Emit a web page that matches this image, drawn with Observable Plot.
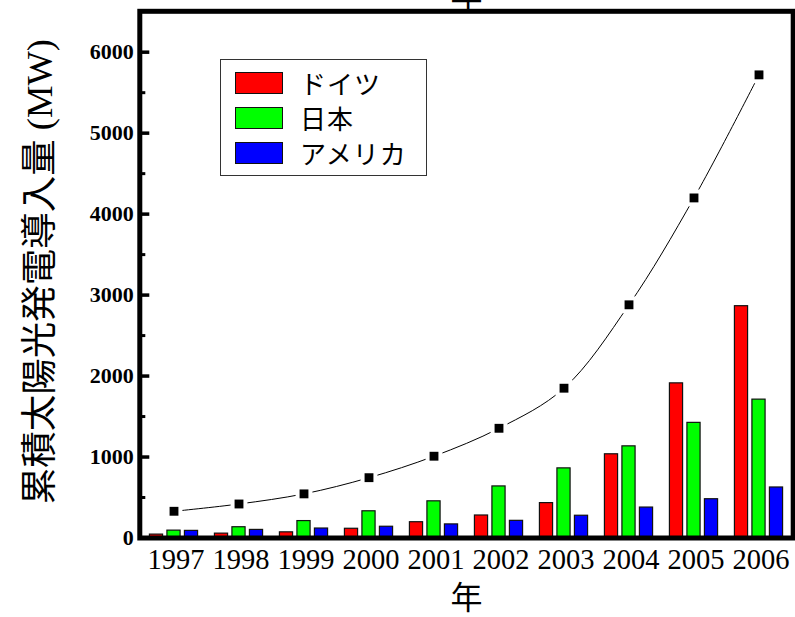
<!DOCTYPE html>
<html>
<head>
<meta charset="utf-8">
<script src="https://cdn.jsdelivr.net/npm/d3@7"></script>
<script src="https://cdn.jsdelivr.net/npm/@observablehq/plot@0.6"></script>
<style>
  html, body { margin: 0; padding: 0; background: #fff; }
  #chart { position: relative; width: 795px; height: 617px; overflow: hidden; }
  #legend {
    position: absolute; left: 220px; top: 59px; width: 207px; height: 117px;
    box-sizing: border-box; border: 1.5px solid #333; background: #fff;
    font-family: "Noto Sans CJK JP", sans-serif; font-size: 26px; color: #000;
  }
  #legend .row { position: absolute; left: 14px; height: 22px; display: flex; align-items: center; }
  #legend .sw { width: 48px; height: 22px; box-sizing: border-box; border: 1px solid #111; }
  #legend .lab { margin-left: 17px; line-height: 22px; white-space: nowrap; letter-spacing: 1px; }
</style>
</head>
<body>
<div id="chart"></div>
<script>
// Cumulative installed photovoltaic capacity (MW), 1997–2006
const years = ["1997", "1998", "1999", "2000", "2001", "2002", "2003", "2004", "2005", "2006"];
const countries = ["ドイツ", "日本", "アメリカ"];
const colors = ["#ff0000", "#00ff00", "#0000ff"];
const germany = [42, 54, 70, 114, 195, 278, 431, 1034, 1910, 2863];
const japan = [91, 133, 209, 330, 453, 637, 860, 1132, 1422, 1709];
const usa = [88, 100, 117, 139, 168, 212, 275, 376, 479, 624];
const total = [330, 420, 545, 745, 1010, 1355, 1850, 2880, 4200, 5720];
const yMajor = [0, 1000, 2000, 3000, 4000, 5000, 6000];
const yMinor = [500, 1500, 2500, 3500, 4500, 5500];
const xTitle = "年";
const yTitleMain = "累積太陽光発電導入量";
const yTitleUnit = "(MW)";

const rows = years.map((year, i) => ({
  year, germany: germany[i], japan: japan[i], usa: usa[i], total: total[i]
}));

const width = 795, height = 617;
const marginLeft = 139.3, marginRight = 2.3, marginTop = 10.8, marginBottom = 79.5;
const bandW = (width - marginLeft - marginRight) / years.length;
const barW = 13.5, barStep = 17.5;
const inset = (bandW - barW) / 2;
const barStyle = {stroke: "#111", strokeWidth: 1.2, insetLeft: inset, insetRight: inset};
const serif = "Liberation Serif, DejaVu Serif, serif";
const cjk = "Noto Sans CJK JP, sans-serif";

const chart = Plot.plot({
  width, height, marginLeft, marginRight, marginTop, marginBottom,
  style: {background: "#fff", color: "#000"},
  x: {type: "band", domain: years, padding: 0},
  y: {domain: [0, 6505]},
  marks: [
    Plot.barY(rows, {x: "year", y: "germany", fill: colors[0], dx: -barStep, ...barStyle}),
    Plot.barY(rows, {x: "year", y: "japan", fill: colors[1], ...barStyle}),
    Plot.barY(rows, {x: "year", y: "usa", fill: colors[2], dx: barStep, ...barStyle}),
    Plot.line(rows, {x: "year", y: "total", curve: "catmull-rom", stroke: "#000", strokeWidth: 1}),
    Plot.dot(rows, {x: "year", y: "total", symbol: "square", r: 9.5, fill: "#fff", stroke: "none"}),
    Plot.dot(rows, {x: "year", y: "total", symbol: "square", r: 5, fill: "#000", stroke: "none"}),
    Plot.frame({stroke: "#000", strokeWidth: 5}),
    Plot.axisY({ticks: yMajor, tickSize: -10, strokeWidth: 3.5, fill: "none", label: null}),
    Plot.axisY({ticks: yMinor, tickSize: -6, strokeWidth: 3, fill: "none", label: null}),
    Plot.axisY({ticks: yMajor, tickSize: 0, tickPadding: 6, tickFormat: d => String(d),
                fontSize: 22, fontWeight: "bold", fontFamily: serif, label: null}),
    Plot.axisX({tickSize: 0, tickPadding: 11, dx: 2, fontSize: 28.5, fontFamily: serif, label: null}),
    Plot.text([xTitle], {text: d => d, frameAnchor: "bottom", dy: 71, fontSize: 32, fontFamily: cjk}),
    Plot.text([xTitle], {text: d => d, frameAnchor: "top", lineAnchor: "bottom", dy: -4.5, fontSize: 32, fontFamily: cjk}),
    Plot.text([yTitleMain + " " + yTitleUnit], {text: d => d, frameAnchor: "left", textAnchor: "middle",
                dx: -99, dy: -3, rotate: -90, fontSize: 36.5, fontFamily: cjk})
  ]
});

// Set the unit of the vertical title in a serif face
d3.select(chart).selectAll("text")
  .filter(function() { return this.textContent === yTitleMain + " " + yTitleUnit; })
  .each(function() {
    const t = d3.select(this);
    t.text(null);
    t.append("tspan").text(yTitleMain);
    t.append("tspan").attr("font-family", serif).text(" " + yTitleUnit);
  });

const host = document.getElementById("chart");
host.appendChild(chart);

// Legend box
const legend = document.createElement("div");
legend.id = "legend";
countries.forEach((name, i) => {
  const row = document.createElement("div");
  row.className = "row";
  row.style.top = (12 + i * 35) + "px";
  const sw = document.createElement("div");
  sw.className = "sw";
  sw.style.background = colors[i];
  const lab = document.createElement("span");
  lab.className = "lab";
  lab.textContent = name;
  row.appendChild(sw);
  row.appendChild(lab);
  legend.appendChild(row);
});
host.appendChild(legend);
</script>
</body>
</html>
